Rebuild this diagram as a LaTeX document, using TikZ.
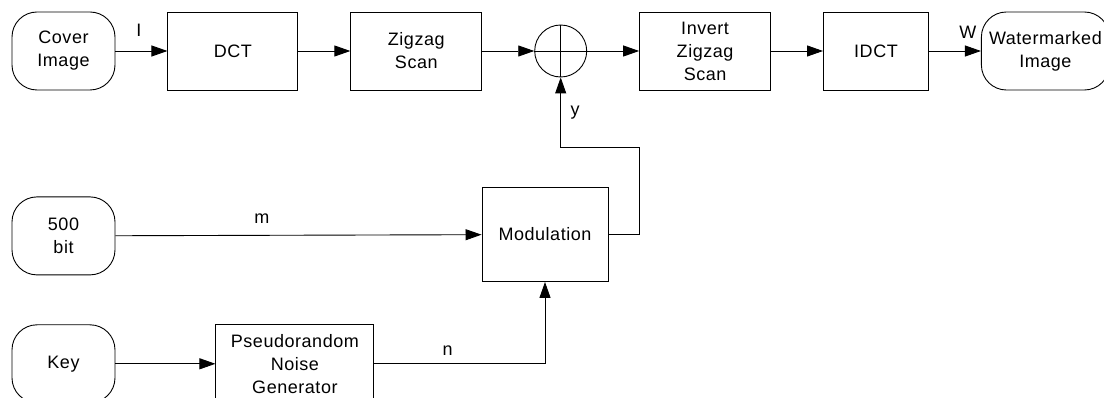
\documentclass[tikz,border=0pt]{standalone}
\usepackage{fontspec}
\setmainfont[LetterSpace=3]{Liberation Sans}
\usetikzlibrary{arrows.meta,positioning}

\begin{document}
\begin{tikzpicture}[x=1pt,y=1pt,node distance=52pt,
    font=\fontsize{18}{23}\selectfont,
    box/.style={draw,line width=0.9pt,minimum height=78pt,align=center,inner sep=0pt},
    term/.style={box,rounded corners=25pt,minimum width=103pt},
    sumnode/.style={draw,line width=0.9pt,circle,minimum size=52pt,inner sep=0pt},
    arr/.style={-{Triangle[length=16pt,width=11pt]},line width=0.9pt},
    lbl/.style={inner sep=0pt}]
    \useasboundingbox (0,0) rectangle (1104,-398);
    % top row: embedding chain
    \node[term] (cover) at (63.5,-51) {Cover\\Image};
    \node[box,minimum width=130pt,right=of cover] (dct) {DCT};
    \node[box,minimum width=131pt,right=of dct] (zig) {Zigzag\\Scan};
    \node[sumnode,right=of zig] (sum) {};
    \draw[line width=0.9pt] (sum.north) -- (sum.south) (sum.west) -- (sum.east);
    \node[box,minimum width=131pt,right=of sum] (izig) {Invert\\Zigzag\\Scan};
    \node[box,minimum width=105pt,right=of izig] (idct) {IDCT};
    \node[term,minimum width=128pt,right=of idct] (wm) {Watermarked\\Image};
    % message and key
    \node[term,below=106pt of cover] (bits) {500\\bit};
    \node[term,below=49pt of bits] (key) {Key};
    \node[box,minimum width=158pt,right=100pt of key] (prng) {Pseudorandom\\Noise\\Generator};
    \node[box,minimum width=126pt,minimum height=94pt] (mod) at (545,-234.5) {Modulation};
    \coordinate (yturn) at (639,-147);
    \draw[arr] (cover) -- node[lbl,pos=0.45,above=14.5pt] {I} (dct);
    \draw[arr] (dct) -- (zig);
    \draw[arr] (zig) -- (sum);
    \draw[arr] (sum) -- (izig);
    \draw[arr] (izig) -- (idct);
    \draw[arr] (idct) -- node[lbl,pos=0.75,above=12.5pt] {W} (wm);
    \draw[arr] (bits) -- node[lbl,pos=0.4,above=11.3pt] {m} (mod);
    \draw[arr] (key) -- (prng);
    \draw[arr] (prng) -| node[lbl,pos=0.215,above=8.3pt] {n} (mod);
    \draw[arr] (mod) -| (yturn) -| node[lbl,pos=0.75,right=9.5pt] {y} (sum);
  \end{tikzpicture}
\end{document}
